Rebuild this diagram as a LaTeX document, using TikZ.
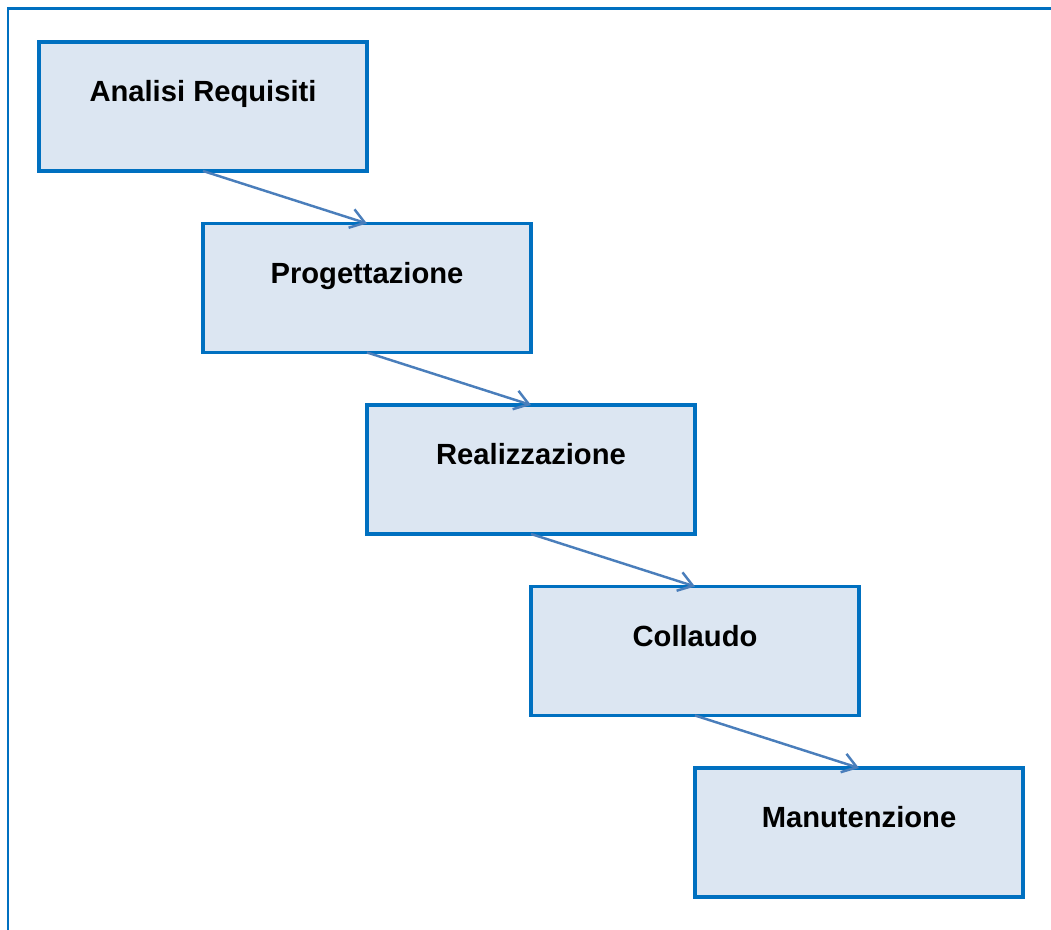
\documentclass[tikz,border=0pt]{standalone}
\usepackage{fontspec}
\setmainfont{Liberation Sans}
\usepackage{xcolor}
\usepackage{tikz}
\usetikzlibrary{arrows.meta, positioning}

\definecolor{boxline}{HTML}{0070C0}
\definecolor{boxfill}{HTML}{DCE6F2}
\definecolor{arrowcol}{HTML}{4A7EBB}

\begin{document}
\begin{tikzpicture}[
    node distance=1.05cm,
    stage/.style={rectangle, draw=boxline, fill=boxfill, line width=1.8pt,
        minimum width=6.56cm, inner xsep=0pt, inner ysep=0pt, outer sep=0pt,
        text height=1.2cm, text depth=1.38cm, align=center,
        font=\fontsize{16.6}{19}\selectfont\bfseries},
    arrow/.style={-{Straight Barb[length=8pt, width=11pt]}, draw=arrowcol, line width=1.4pt},
    frame/.style={draw=boxline, line width=1.2pt},
]
\useasboundingbox (0,0) rectangle (21.02,18.6);

% cornice
\coordinate (fbl) at (0.16,0);
\coordinate (ftr) at (21.02,18.43);
\draw[frame] (fbl) |- (ftr);

% fasi
\node[stage, anchor=north west] (analisi) at (0.78,17.76) {Analisi Requisiti};
\node[stage, below=of analisi.south, anchor=north west] (progetto) {Progettazione};
\node[stage, below=of progetto.south, anchor=north west] (realizza) {Realizzazione};
\node[stage, below=of realizza.south, anchor=north west] (collaudo) {Collaudo};
\node[stage, below=of collaudo.south, anchor=north west] (manut) {Manutenzione};

% frecce
\draw[arrow] (analisi.south) -- (progetto.north);
\draw[arrow] (progetto.south) -- (realizza.north);
\draw[arrow] (realizza.south) -- (collaudo.north);
\draw[arrow] (collaudo.south) -- (manut.north);

\end{tikzpicture}
\end{document}
